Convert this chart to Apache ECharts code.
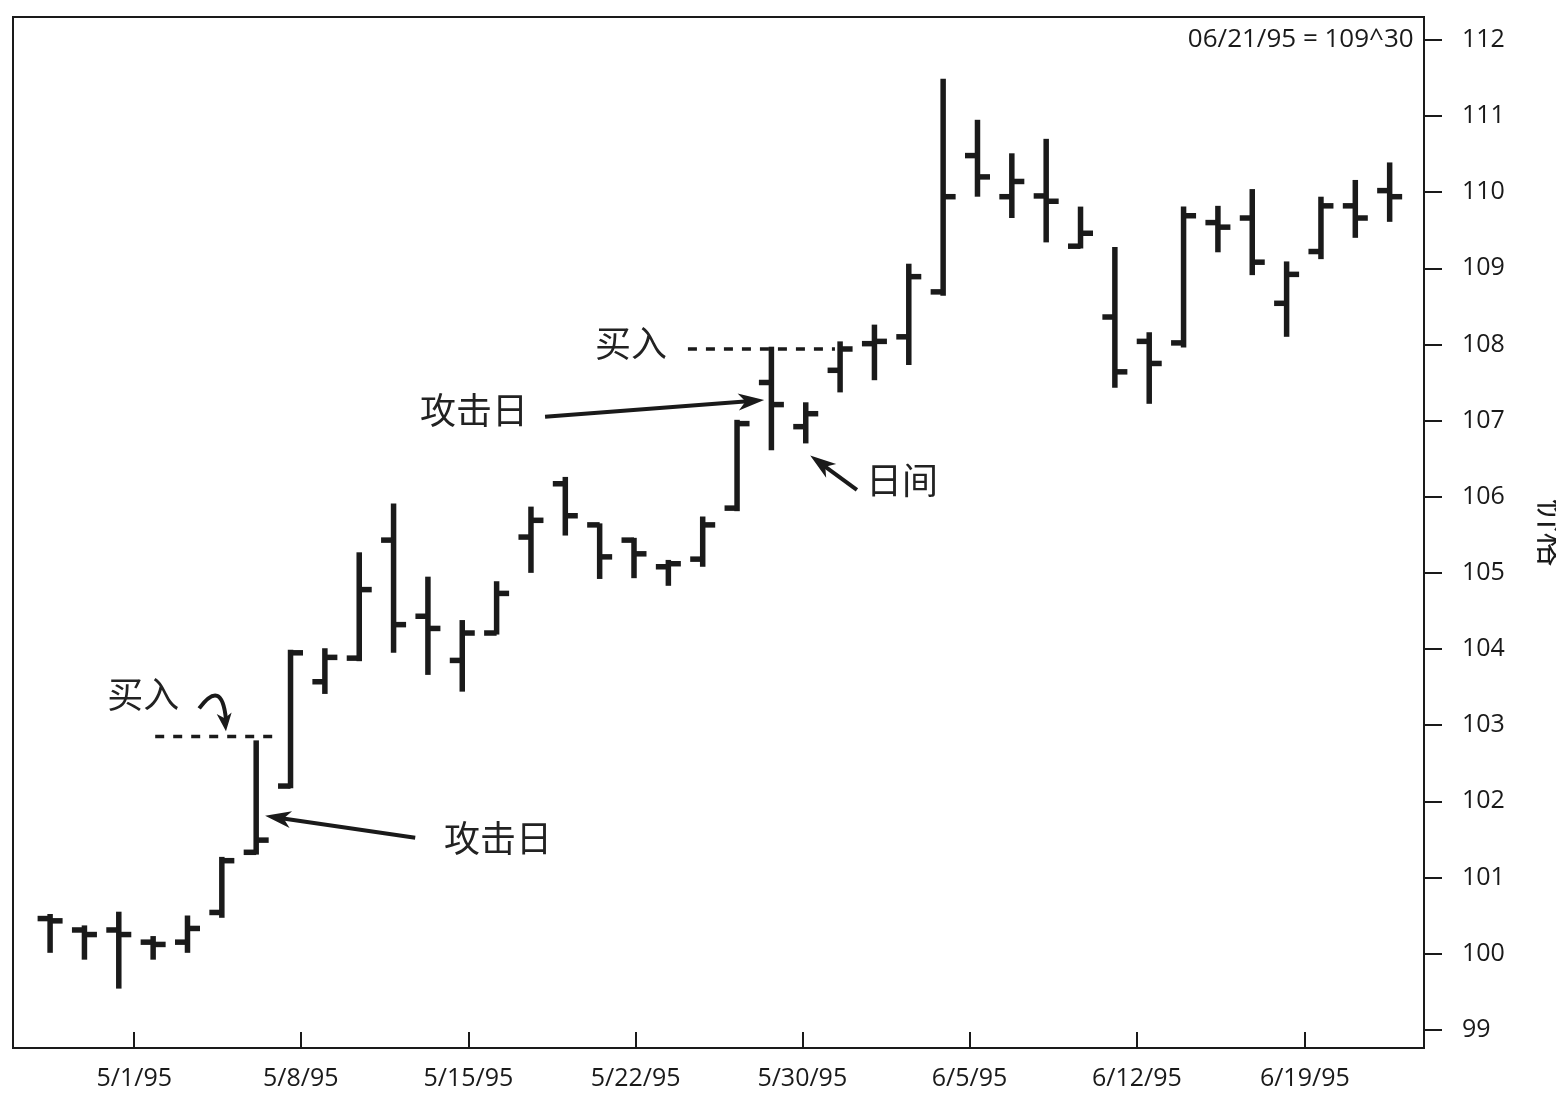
<!DOCTYPE html>
<html><head><meta charset="utf-8">
<script src="https://cdn.jsdelivr.net/npm/echarts@6/dist/echarts.min.js"></script>
<style>html,body{margin:0;padding:0;background:#fff}#c{width:1556px;height:1102px}</style>
</head><body><div id="c"></div>
<script>
// ---- data ----
const dates = ['4/26/95','4/27/95','4/28/95',
  '5/1/95','5/2/95','5/3/95','5/4/95','5/5/95',
  '5/8/95','5/9/95','5/10/95','5/11/95','5/12/95',
  '5/15/95','5/16/95','5/17/95','5/18/95','5/19/95',
  '5/22/95','5/23/95','5/24/95','5/25/95','5/26/95',
  '5/30/95','5/31/95','6/1/95','6/2/95',
  '6/5/95','6/6/95','6/7/95','6/8/95','6/9/95',
  '6/12/95','6/13/95','6/14/95','6/15/95','6/16/95',
  '6/19/95','6/20/95','6/21/95'];
const openP  = [100.46,100.31,100.31,100.15,100.15,100.54,101.33,102.20,103.57,103.88,
                105.43,104.43,103.85,104.21,105.47,106.17,105.63,105.43,105.08,105.18,
                105.85,107.50,106.92,107.66,108.01,108.10,108.69,110.48,109.94,109.95,
                109.29,108.36,108.04,108.02,109.60,109.66,108.54,109.22,109.82,110.02];
const highP  = [100.52,100.37,100.55,100.23,100.50,101.27,102.80,103.99,104.01,105.27,
                105.91,104.95,104.38,104.89,105.87,106.26,105.65,105.46,105.17,105.74,
                107.01,107.97,107.24,108.04,108.26,109.06,111.49,110.95,110.51,110.70,
                109.81,109.28,108.16,109.81,109.82,110.04,109.09,109.94,110.16,110.39];
const lowP   = [100.01, 99.92, 99.54, 99.92,100.01,100.47,101.30,102.17,103.41,103.84,
                103.95,103.66,103.44,104.19,105.00,105.49,104.92,104.93,104.83,105.08,
                105.81,106.61,106.70,107.37,107.53,107.73,108.64,109.94,109.66,109.34,
                109.26,107.43,107.22,107.96,109.21,108.91,108.10,109.12,109.40,109.61];
const closeP = [100.43,100.25,100.25,100.12,100.33,101.22,101.49,103.95,103.89,104.78,
                104.32,104.27,104.21,104.73,105.69,105.75,105.21,105.25,105.12,105.63,
                106.96,107.21,107.09,107.94,108.04,108.89,109.94,110.20,110.14,109.88,
                109.46,107.64,107.75,109.69,109.54,109.08,108.92,109.82,109.66,109.94];
const xTickPos = [2.45, 7.30, 12.18, 17.05, 21.90, 26.77, 31.64, 36.53];
const xTickLabels = ['5/1/95','5/8/95','5/15/95','5/22/95','5/30/95','6/5/95','6/12/95','6/19/95'];
const yTicks = [99,100,101,102,103,104,105,106,107,108,109,110,111,112];
const lastLabel = '06/21/95 = 109^30';
const yName = '价格';
// buy levels: [price, fromIndex, toIndex]
const buyLines = [[102.85, 3.06, 6.49], [107.94, 18.57, 22.85]];
// annotation texts: [text, index, price]
const notes = [['买入', 2.71, 103.41], ['攻击日', 12.34, 107.14], ['攻击日', 13.04, 101.52],
               ['日间', 24.80, 106.21], ['买入', 16.91, 108.01]];
// straight arrows: [tailIndex, tailPrice, headIndex, headPrice]
const arrows = [[10.63, 101.52, 6.26, 101.81], [14.41, 107.05, 20.79, 107.27], [23.49, 106.09, 22.13, 106.54]];
// curved arrow: start, control, end (index, price)
const curveArrow = [[4.34, 103.22], [5.00, 103.62], [5.12, 102.92]];

const chart = echarts.init(document.getElementById('c'), null, {renderer: 'canvas'});
const ink = '#1a1a1a';
const numFont = '"Open Sans", "Noto Sans", sans-serif';
const cjkFont = '"Noto Sans CJK SC", sans-serif';

chart.setOption({
  animation: false,
  backgroundColor: '#fff',
  grid: {left: 13, right: 132, top: 17, bottom: 54, show: true, borderColor: ink, borderWidth: 2,
         containLabel: false, outerBoundsMode: 'none'},
  xAxis: {
    type: 'value', min: -1.08, max: 40.0,
    splitLine: {show: false},
    axisLine: {show: true, onZero: false, lineStyle: {color: ink, width: 2}},
    axisTick: {show: true, inside: true, length: 16, lineStyle: {color: ink, width: 2}, customValues: xTickPos},
    axisLabel: {show: true, customValues: xTickPos, margin: 18, color: ink, fontSize: 25, fontFamily: numFont,
      formatter: function (v) {
        for (let k = 0; k < xTickPos.length; k++) if (Math.abs(xTickPos[k] - v) < 1e-6) return xTickLabels[k];
        return '';
      }}
  },
  yAxis: {
    type: 'value', position: 'right', min: 98.76, max: 112.30, scale: true,
    splitLine: {show: false},
    axisLine: {show: true, onZero: false, lineStyle: {color: ink, width: 2}},
    axisTick: {show: true, inside: false, length: 18, lineStyle: {color: ink, width: 2}, customValues: yTicks},
    axisLabel: {show: true, customValues: yTicks, margin: 38, color: ink, fontSize: 25, fontFamily: numFont},
    name: yName, nameLocation: 'middle', nameGap: 112, nameRotate: -90,
    nameTextStyle: {color: ink, fontSize: 34, fontFamily: cjkFont}
  },
  series: [{
    type: 'custom',
    data: dates.map((d, i) => [i, openP[i], highP[i], lowP[i], closeP[i]]),
    encode: {x: 0, y: [2, 3]},
    renderItem: function (params, api) {
      const i = api.value(0);
      const pH = api.coord([i, api.value(2)]);
      const pL = api.coord([i, api.value(3)]);
      const pO = api.coord([i, api.value(1)]);
      const pC = api.coord([i, api.value(4)]);
      const x = pH[0], w = 5.5, t = 12.5, th = 5.5;
      return {type: 'group', children: [
        {type: 'rect', shape: {x: x - w / 2, y: pH[1], width: w, height: pL[1] - pH[1]}, style: {fill: ink}},
        {type: 'rect', shape: {x: x - t, y: pO[1] - th / 2, width: t, height: th}, style: {fill: ink}},
        {type: 'rect', shape: {x: x, y: pC[1] - th / 2, width: t, height: th}, style: {fill: ink}}
      ]};
    }
  }]
});

function px(ix, p) { return chart.convertToPixel({gridIndex: 0}, [ix, p]); }
const g = [];
buyLines.forEach(b => {
  const a = px(b[1], b[0]), c = px(b[2], b[0]);
  g.push({type: 'line', shape: {x1: a[0], y1: a[1], x2: c[0], y2: c[1]},
          style: {stroke: ink, lineWidth: 3.5, lineDash: [9, 9]}, z: 10});
});
function head(tip, from, len, hw) {
  const dx = tip[0] - from[0], dy = tip[1] - from[1];
  const L = Math.sqrt(dx * dx + dy * dy), ux = dx / L, uy = dy / L;
  const bx = tip[0] - ux * len, by = tip[1] - uy * len;
  return {base: [bx, by], pts: [tip, [bx - uy * hw, by + ux * hw], [tip[0] - ux * len * 0.72, tip[1] - uy * len * 0.72], [bx + uy * hw, by - ux * hw]]};
}
arrows.forEach(a => {
  const t = px(a[0], a[1]), h = px(a[2], a[3]);
  const hd = head(h, t, 26, 8.5);
  g.push({type: 'line', shape: {x1: t[0], y1: t[1], x2: hd.base[0] + (h[0] - hd.base[0]) * 0.5, y2: hd.base[1] + (h[1] - hd.base[1]) * 0.5},
          style: {stroke: ink, lineWidth: 4}, z: 10});
  g.push({type: 'polygon', shape: {points: hd.pts}, style: {fill: ink}, z: 10});
});
(function () {
  const s = px(curveArrow[0][0], curveArrow[0][1]);
  const c = px(curveArrow[1][0], curveArrow[1][1]);
  const e = px(curveArrow[2][0], curveArrow[2][1]);
  g.push({type: 'bezierCurve', shape: {x1: s[0], y1: s[1], x2: e[0], y2: e[1] - 12, cpx1: c[0], cpy1: c[1]},
          style: {stroke: ink, lineWidth: 4, fill: null}, z: 10});
  const hd = head(e, [e[0] - 2, e[1] - 20], 18, 7.5);
  g.push({type: 'polygon', shape: {points: hd.pts}, style: {fill: ink}, z: 10});
})();
notes.forEach(n => {
  const p = px(n[1], n[2]);
  g.push({type: 'text', x: p[0], y: p[1], z: 10,
          style: {text: n[0], fill: '#222', font: '36px ' + cjkFont, align: 'center', verticalAlign: 'middle',
                  textAlign: 'center', textVerticalAlign: 'middle'}});
});
const tr = px(39.7, 112);
g.push({type: 'text', x: tr[0], y: tr[1], z: 10,
        style: {text: lastLabel, fill: ink, font: '26px ' + numFont, align: 'right', verticalAlign: 'middle',
                textAlign: 'right', textVerticalAlign: 'middle'}});
chart.setOption({graphic: g});
</script>
</body></html>
